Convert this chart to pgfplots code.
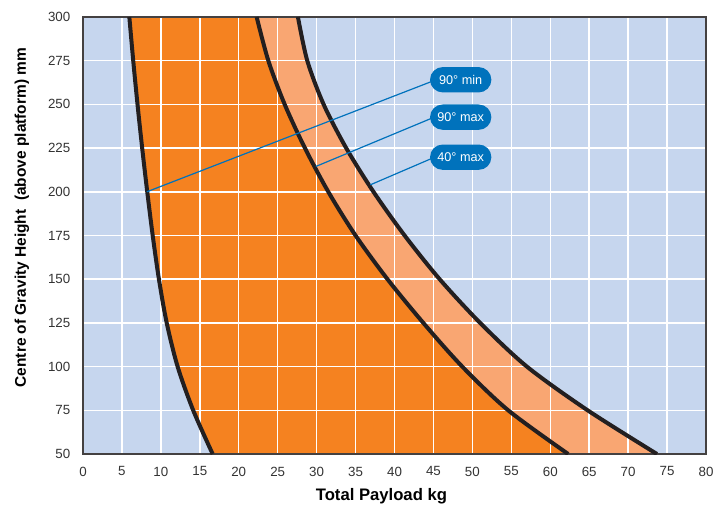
\documentclass[border=0pt]{standalone}
\usepackage{pgfplots}
\pgfplotsset{compat=1.18}
\usepackage{pgfplotstable}
\usepackage{fontspec}
\setmainfont{Liberation Sans}

\definecolor{bgblue}{RGB}{198,214,238}
\definecolor{orng}{RGB}{245,130,32}
\definecolor{salmon}{RGB}{249,166,114}
\definecolor{callblue}{RGB}{0,114,188}
\definecolor{curveblk}{RGB}{35,31,32}

% curves: payload (kg) against centre of gravity height (mm)
\pgfplotstableread{
x y
5.95 300
6.45 275
7.0 250
7.6 225
8.25 200
8.95 175
9.75 150
10.75 125
12.15 100
14.15 75
16.65 50
}\minninety
\pgfplotstableread{
x y
22.3 300
23.8 275
25.9 250
28.5 225
31.5 200
35.0 175
39.1 150
43.7 125
48.7 100
54.6 75
62.3 50
}\maxninety
\pgfplotstableread{
x y
27.6 300
28.8 275
30.9 250
33.8 225
37.3 200
41.3 175
45.8 150
51.0 125
57.0 100
64.8 75
73.7 50
}\maxforty

\begin{document}
\begin{tikzpicture}
\begin{axis}[
    set layers,
    scale only axis,
    width=467.25pt, height=327.75pt,
    xmin=0, xmax=80, ymin=50, ymax=300,
    xtick={0,5,...,80}, ytick={50,75,...,300},
    major tick length=0pt,
    grid=major,
    grid style={white, line width=1.1pt},
    axis background/.style={fill=bgblue},
    axis line style={draw=curveblk!85, line width=0.9pt},
    tick label style={font=\fontsize{10}{12}\selectfont, text=black!80},
    /pgf/number format/assume math mode=true,
    xticklabel style={yshift=-6pt},
    yticklabel style={xshift=-6pt},
    xlabel={Total Payload kg},
    ylabel={Centre of Gravity Height\ \ (above platform) mm},
    every axis x label/.style={at={(axis description cs:0.479,-0.096)}, anchor=center,
        font=\bfseries\fontsize{12.5}{15}\selectfont},
    every axis y label/.style={at={(axis description cs:-0.098,0.541)}, anchor=center, rotate=90,
        font=\bfseries\fontsize{11.6}{14}\selectfont},
]
% filled regions, under the grid
\addplot[on layer=axis background, fill=salmon, draw=none, smooth]
    table {\maxforty} -- (axis cs:0,50) -- (axis cs:0,300) -- cycle;
\addplot[on layer=axis background, fill=orng, draw=none, smooth]
    table {\maxninety} -- (axis cs:0,50) -- (axis cs:0,300) -- cycle;
\addplot[on layer=axis background, fill=bgblue, draw=none, smooth]
    table {\minninety} -- (axis cs:0,50) -- (axis cs:0,300) -- cycle;

% boundary curves
\addplot[curveblk, line width=3pt, smooth] table {\minninety};
\addplot[curveblk, line width=3pt, smooth] table {\maxninety};
\addplot[curveblk, line width=3pt, smooth] table {\maxforty};

% callouts
\draw[callblue, line width=0.9pt] (axis cs:8.2,200) -- (axis cs:45,263.5);
\draw[callblue, line width=0.9pt] (axis cs:29.9,214.5) -- (axis cs:45,242.5);
\draw[callblue, line width=0.9pt] (axis cs:36.9,204) -- (axis cs:45,219.5);
\tikzset{callout/.style={fill=callblue, text=white, rounded corners=9.5pt,
    minimum width=46pt, minimum height=19pt, inner sep=2pt,
    font=\fontsize{9.5}{11}\selectfont}}
\node[callout] at (axis cs:48.5,264.1) {90° min};
\node[callout] at (axis cs:48.5,242.7) {90° max};
\node[callout] at (axis cs:48.5,219.8) {40° max};
\end{axis}
\pgfresetboundingbox
\path[use as bounding box] (-62.25pt,-39.75pt) rectangle (473.25pt,340.5pt);
\end{tikzpicture}
\end{document}
